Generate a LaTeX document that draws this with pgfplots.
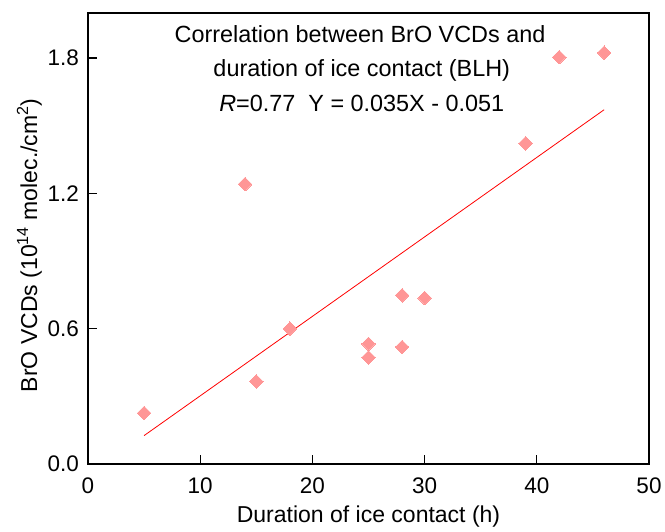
\documentclass[border=0pt]{standalone}
\usepackage{pgfplots}
\pgfplotsset{compat=1.18}
\usepackage{fontspec}
\setmainfont{Liberation Sans}
\definecolor{mkpink}{RGB}{255,150,150}
\begin{document}
\begin{tikzpicture}
\useasboundingbox (0,0) rectangle (665bp,532bp);
\begin{axis}[
  scale only axis,
  width=561bp, height=451bp,
  at={(88bp,68bp)}, anchor=south west,
  xmin=0, xmax=50, ymin=0, ymax=2.0,
  xtick={0,10,20,30,40,50},
  ytick={0,0.6,1.2,1.8},
  tick pos=left,
  tick align=inside,
  major tick length=9bp,
  axis line style={line width=1.2bp},
  tick style={line width=1.2bp, black},
  font=\fontsize{22.5bp}{27bp}\selectfont,
  /pgf/number format/assume math mode=true,
  yticklabel style={/pgf/number format/.cd, fixed, fixed zerofill, precision=1, /tikz/.cd, anchor=east, inner sep=0pt, xshift=-9bp},
  xticklabel style={anchor=base, inner sep=0pt, yshift=-29bp},
  xlabel={Duration of ice contact (h)},
  ylabel={BrO VCDs (10\textsuperscript{14} molec./cm\textsuperscript{2})},
  xlabel style={at={(axis description cs:0.5,-0.1308)}, anchor=base, inner sep=0pt, font=\fontsize{23bp}{27bp}\selectfont},
  ylabel style={at={(axis description cs:-0.0909,0.485)}, anchor=base, inner sep=0pt, font=\fontsize{23bp}{27bp}\selectfont},
  clip=false,
]
\addplot[red, line width=0.8bp] coordinates {(5,0.126) (46,1.571)};
\addplot[mkpink, only marks, mark=square*, mark size=4.8bp, mark options={rotate=45, fill=mkpink, draw=mkpink, line width=0pt}] coordinates {
(5,0.226) (14,1.241) (15,0.366) (18,0.600) (25,0.533) (25,0.473)
(28,0.748) (28,0.519) (30,0.736) (39,1.422) (42,1.804) (46,1.824)
};
\node[anchor=base, inner sep=0pt, font=\fontsize{23.4bp}{27bp}\selectfont] at (axis cs:24.25,1.871) {Correlation between BrO VCDs and};
\node[anchor=base, inner sep=0pt, font=\fontsize{23.4bp}{27bp}\selectfont] at (axis cs:24.4,1.719) {duration of ice contact (BLH)};
\node[anchor=base, inner sep=0pt, font=\fontsize{23.4bp}{27bp}\selectfont] at (axis cs:24.4,1.564) {\textit{R}=0.77\ \ Y = 0.035X - 0.051};
\end{axis}
\end{tikzpicture}
\end{document}
